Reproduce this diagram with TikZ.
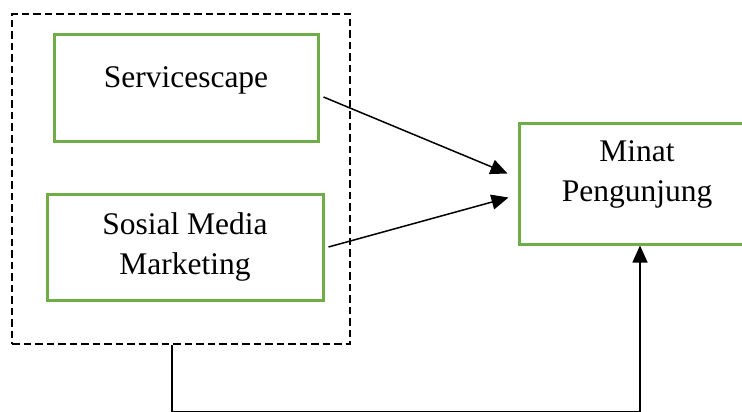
\documentclass[tikz,border=0pt]{standalone}
\usepackage{fontspec}
\setmainfont{Liberation Serif}
\usetikzlibrary{arrows.meta}
\definecolor{boxgreen}{RGB}{112,173,71}
\begin{document}
\begin{tikzpicture}[x=1pt,y=-1pt,
  varbox/.style={draw=boxgreen,line width=3pt,minimum width=#1,inner sep=0pt},
  caption/.style={font=\fontsize{31.5}{40}\selectfont,align=center,inner sep=0pt},
  conn/.style={line width=1.5pt,-{Triangle[length=17pt,width=15pt]}}]
\clip (0,0) rectangle (742,412);
\useasboundingbox (0,0) rectangle (742,412);
\fill[white] (0,0) rectangle (742,412);

% dashed group around the two independent variables
\node[draw,line width=2.8pt,dash pattern=on 7.5pt off 4pt,minimum width=338pt,minimum height=330pt,inner sep=0pt] (group) at (181,179) {};

% independent variables
\node[varbox=264pt,minimum height=106pt] (serv) at (186,88) {};
\node[caption,anchor=base] (servtxt) at (186,88) {Servicescape};

\node[varbox=276pt,minimum height=106pt] (smm) at (185,247) {};
\node[caption] (smmtxt) at (185,247) {Sosial Media\\Marketing};

% dependent variable
\node[varbox=236pt,minimum height=121pt] (minat) at (637,183.5) {};
\node[caption] (minattxt) at (637,174) {Minat\\Pengunjung};

% connectors
\draw[conn] ([xshift=4pt,yshift=-9pt]serv.east) -- ([xshift=-10pt,yshift=10pt]minat.west);
\draw[conn] ([xshift=4pt,yshift=0pt]smm.east) -- ([xshift=-9pt,yshift=-14pt]minat.west);
\draw[conn] ([xshift=-9pt]group.south) -- ++(0,66) -| ([xshift=3pt]minat.south);
\end{tikzpicture}
\end{document}
